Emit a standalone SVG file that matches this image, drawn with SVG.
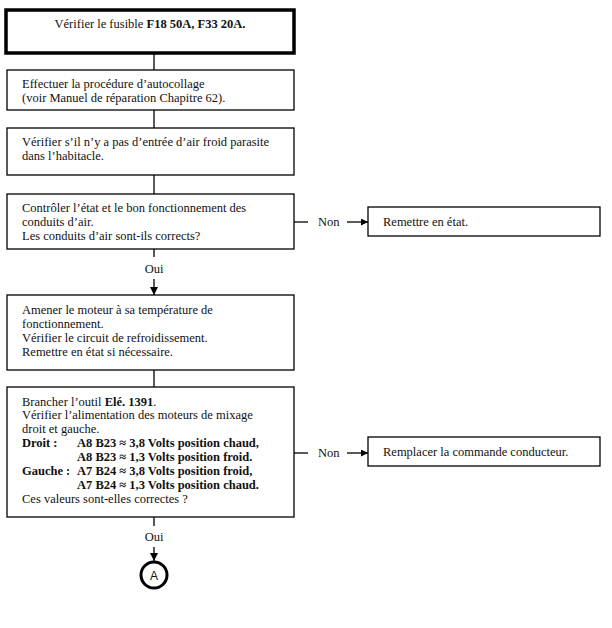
<svg xmlns="http://www.w3.org/2000/svg" width="612" height="628" viewBox="0 0 612 628">
<style>
.box{fill:#fff;stroke:#000;stroke-width:1.3}
.thick{fill:#fff;stroke:#000;stroke-width:3.5}
text{font-family:"Liberation Serif","Times New Roman",serif;font-size:12.5px;fill:#111}
.b{font-weight:bold}
.ln{stroke:#000;stroke-width:1.3;fill:none}
</style>
<defs>
<marker id="ah" viewBox="0 0 10 10" refX="10" refY="5" markerWidth="7" markerHeight="7" markerUnits="userSpaceOnUse" orient="auto"><path d="M0,0L10,5L0,10z" fill="#000"/></marker>
<marker id="ah2" viewBox="0 0 10 10" refX="10" refY="5" markerWidth="8" markerHeight="8" markerUnits="userSpaceOnUse" orient="auto"><path d="M0,0L10,5L0,10z" fill="#000"/></marker>
</defs>
<rect width="612" height="628" fill="#fff"/>
<g id="connectors">
<line class="ln" x1="154" y1="54" x2="154" y2="70"/>
<line class="ln" x1="154" y1="110" x2="154" y2="128"/>
<line class="ln" x1="154" y1="175" x2="154" y2="194"/>
<line class="ln" x1="154" y1="249" x2="154" y2="257"/>
<text x="154" y="273" text-anchor="middle">Oui</text>
<line class="ln" x1="154" y1="279" x2="154" y2="295" marker-end="url(#ah2)"/>
<line class="ln" x1="154" y1="370" x2="154" y2="387"/>
<line class="ln" x1="294" y1="222" x2="308" y2="222"/>
<text x="318" y="226">Non</text>
<line class="ln" x1="347" y1="222" x2="368" y2="222" marker-end="url(#ah)"/>
<line class="ln" x1="294" y1="453" x2="308" y2="453"/>
<text x="318" y="457">Non</text>
<line class="ln" x1="347" y1="453" x2="368" y2="453" marker-end="url(#ah)"/>
<line class="ln" x1="154" y1="517" x2="154" y2="526"/>
<text x="154" y="541" text-anchor="middle">Oui</text>
<line class="ln" x1="154" y1="547" x2="154" y2="561" marker-end="url(#ah2)"/>
</g>
<g id="n1">
<rect class="thick" x="6" y="10" width="288" height="43"/>
<text x="150" y="28" text-anchor="middle">Vérifier le fusible <tspan class="b">F18 50A, F33 20A.</tspan></text>
</g>
<g id="n2">
<rect class="box" x="7" y="70" width="287" height="40"/>
<text x="22" y="88">Effectuer la procédure d’autocollage</text>
<text x="22" y="102">(voir Manuel de réparation Chapitre 62).</text>
</g>
<g id="n3">
<rect class="box" x="7" y="128" width="287" height="47"/>
<text x="22" y="146">Vérifier s’il n’y a pas d’entrée d’air froid parasite</text>
<text x="22" y="160">dans l’habitacle.</text>
</g>
<g id="n4">
<rect class="box" x="7" y="194" width="287" height="55"/>
<text x="22" y="212">Contrôler l’état et le bon fonctionnement des</text>
<text x="22" y="226">conduits d’air.</text>
<text x="22" y="240">Les conduits d’air sont-ils corrects?</text>
</g>
<g id="n5">
<rect class="box" x="368" y="207" width="232" height="29"/>
<text x="383" y="226">Remettre en état.</text>
</g>
<g id="n6">
<rect class="box" x="7" y="295" width="287" height="75"/>
<text x="22" y="314">Amener le moteur à sa température de</text>
<text x="22" y="328">fonctionnement.</text>
<text x="22" y="342">Vérifier le circuit de refroidissement.</text>
<text x="22" y="356">Remettre en état si nécessaire.</text>
</g>
<g id="n7">
<rect class="box" x="7" y="387" width="287" height="130"/>
<text x="22" y="406">Brancher l’outil <tspan class="b">Elé. 1391</tspan>.</text>
<text x="22" y="419">Vérifier l’alimentation des moteurs de mixage</text>
<text x="22" y="433">droit et gauche.</text>
<text x="22" y="447" class="b">Droit :</text>
<text x="77" y="447" class="b">A8 B23 ≈ 3,8 Volts position chaud,</text>
<text x="77" y="461" class="b">A8 B23 ≈ 1,3 Volts position froid.</text>
<text x="22" y="475" class="b">Gauche :</text>
<text x="77" y="475" class="b">A7 B24 ≈ 3,8 Volts position froid,</text>
<text x="77" y="489" class="b">A7 B24 ≈ 1,3 Volts position chaud.</text>
<text x="22" y="503">Ces valeurs sont-elles correctes ?</text>
</g>
<g id="n8">
<rect class="box" x="368" y="437" width="232" height="29"/>
<text x="383" y="456">Remplacer la commande conducteur.</text>
</g>
<g id="n9">
<circle cx="154" cy="575" r="13" fill="#fff" stroke="#000" stroke-width="3"/>
<text x="154" y="580" text-anchor="middle" style="font-family:'Liberation Sans',Arial,sans-serif;font-size:12px">A</text>
</g>
</svg>
